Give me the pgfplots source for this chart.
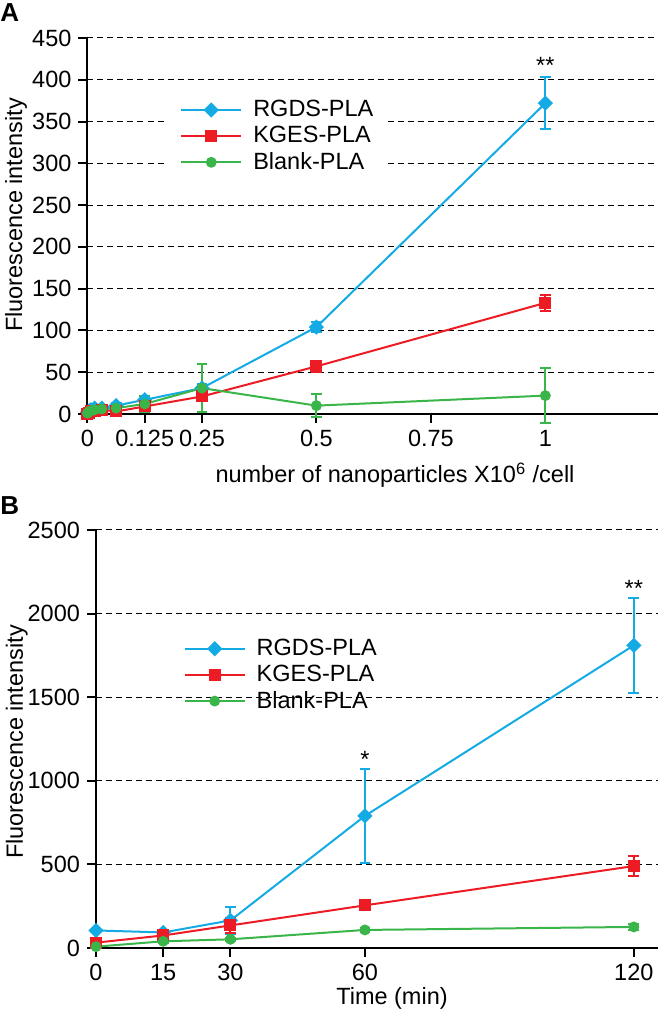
\documentclass[border=0pt]{standalone}
\usepackage{fontspec}
\setmainfont{Liberation Sans}
\usepackage{pgfplots}
\pgfplotsset{compat=1.18}
\definecolor{cblue}{RGB}{20,170,228}
\definecolor{cred}{RGB}{237,28,36}
\definecolor{cgreen}{RGB}{57,181,74}
\newcommand{\fs}{\fontsize{11.75}{14}\selectfont}
\pgfplotsset{
  myax/.style={
    scale only axis,
    axis lines*=left,
    axis line style={line width=1pt, black},
    tick align=outside,
    major tick length=4.5pt,
    every tick/.style={black, line width=1pt},
    ymajorgrids,
    grid style={black, line width=0.5pt, dash pattern=on 3pt off 2pt},
    font=\fs,
    tick label style={font=\fs},
    /pgf/number format/assume math mode=true,
    clip=false,
    legend cell align=left,
    legend style={draw=none, font=\fs, inner xsep=6pt, inner ysep=4pt,
      nodes={inner sep=1pt}, row sep=1.3pt, anchor=north west,
      /tikz/every odd column/.append style={column sep=4.5pt}},
    legend image code/.code={\draw[mark repeat=2,mark phase=2,#1] plot coordinates {(0pt,0pt) (15pt,0pt) (30pt,0pt)};},
    error bars/y dir=both,
    error bars/y explicit,
    error bars/error bar style={line width=1pt},
    error bars/error mark options={rotate=90, mark size=2.7pt, line width=1pt},
  },
  sblue/.style={color=cblue, line width=1pt, mark=square*, mark size=2.2pt, mark options={rotate=45, solid, fill=cblue}},
  sred/.style={color=cred, line width=1pt, mark=square*, mark size=2.5pt, mark options={solid, fill=cred}},
  sgreen/.style={color=cgreen, line width=1pt, mark=*, mark size=2.2pt, mark options={solid, fill=cgreen}},
}
\begin{document}
\begin{tikzpicture}
\useasboundingbox (0,0) rectangle (330pt,505.5pt);
% ---------- Panel A ----------
\begin{axis}[myax,
  at={(43.75pt,298.5pt)}, anchor=south west,
  width=285pt, height=188pt,
  xmin=0, xmax=1.245, ymin=0, ymax=450,
  xtick={0,0.125,0.25,0.5,0.75,1},
  xticklabels={0,0.125,0.25,0.5,0.75,1},
  ytick={0,50,100,150,200,250,300,350,400,450},
  yticklabels={0,50,100,150,200,250,300,350,400,450},
  legend style={at={(0.141,0.862)}, fill=white},
]
\addplot[sblue] coordinates {
 (0,2) +- (0,1) (0.0039,4) +- (0,2) (0.0078,5) +- (0,2) (0.0156,7) +- (0,3)
 (0.03125,7) +- (0,3) (0.0625,10) +- (0,3) (0.125,17) +- (0,5) (0.25,31) +- (0,5)
 (0.5,104) +- (0,6) (1,372) +- (0,31)};
\addlegendentry{RGDS-PLA}
\addplot[sred] coordinates {
 (0,0) +- (0,1) (0.0039,1) +- (0,2) (0.0078,3) +- (0,2) (0.0156,4) +- (0,3)
 (0.03125,5) +- (0,3) (0.0625,3) +- (0,3) (0.125,9) +- (0,4) (0.25,21) +- (0,5)
 (0.5,57) +- (0,7) (1,133) +- (0,10)};
\addlegendentry{KGES-PLA}
\addplot[sgreen] coordinates {
 (0,1) +- (0,1) (0.0039,3) +- (0,1) (0.0078,4) +- (0,1) (0.0156,5) +- (0,1)
 (0.03125,6) +- (0,1) (0.0625,7) +- (0,2) (0.125,12) +- (0,10) (0.25,31) +- (0,29)
 (0.5,10) +- (0,14) (1,22) +- (0,33)};
\addlegendentry{Blank-PLA}
\node[anchor=base, font=\fs, inner sep=0pt] at (axis cs:1,408) {**};
\end{axis}
% ---------- Panel B ----------
\begin{axis}[myax,
  at={(48pt,31.5pt)}, anchor=south west,
  width=281pt, height=209pt,
  xmin=0, xmax=125.4, ymin=0, ymax=2500,
  xtick={0,15,30,60,120},
  xticklabels={0,15,30,60,120},
  ytick={0,500,1000,1500,2000,2500},
  yticklabels={0,500,1000,1500,2000,2500},
  legend style={at={(0.134,0.764)}, fill=none},
]
\addplot[sblue] coordinates {
 (0,105) +- (0,10) (15,93) +- (0,10) (30,165) +- (0,80) (60,790) +- (0,280) (120,1810) +- (0,285)};
\addlegendentry{RGDS-PLA}
\addplot[sred] coordinates {
 (0,32) +- (0,15) (15,75) +- (0,15) (30,135) +- (0,45) (60,255) +- (0,25) (120,490) +- (0,60)};
\addlegendentry{KGES-PLA}
\addplot[sgreen] coordinates {
 (0,8) +- (0,5) (15,40) +- (0,8) (30,52) +- (0,8) (60,108) +- (0,10) (120,126) +- (0,18)};
\addlegendentry{Blank-PLA}
\node[anchor=base, font=\fs, inner sep=0pt] at (axis cs:60,1080) {*};
\node[anchor=base, font=\fs, inner sep=0pt] at (axis cs:120,2100) {**};
\end{axis}
% ---------- labels ----------
\node[anchor=base west, inner sep=0pt, font=\bfseries\fontsize{13}{15}\selectfont] at (0pt,494.5pt) {A};
\node[anchor=base west, inner sep=0pt, font=\bfseries\fontsize{13}{15}\selectfont] at (0pt,248pt) {B};
\node[rotate=90, anchor=base, inner sep=0pt, font=\fs] at (11pt,398pt) {Fluorescence intensity};
\node[rotate=90, anchor=base, inner sep=0pt, font=\fs] at (11.5pt,134.5pt) {Fluorescence intensity};
\node[anchor=base, inner sep=0pt, font=\fs] at (197.5pt,264pt) {number of nanoparticles X10\textsuperscript{6} /cell};
\node[anchor=base, inner sep=0pt, font=\fs] at (196pt,3pt) {Time (min)};
\end{tikzpicture}
\end{document}
